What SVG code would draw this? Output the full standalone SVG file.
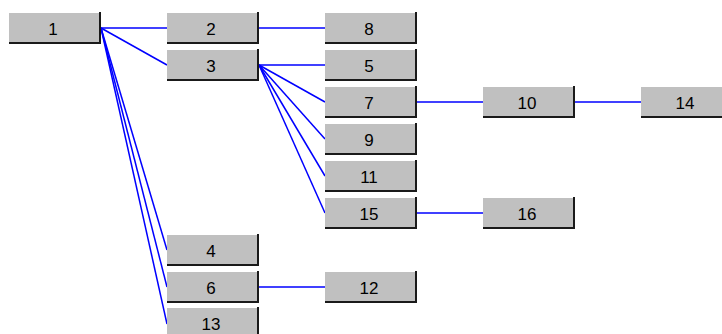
<svg xmlns="http://www.w3.org/2000/svg" width="722" height="334" viewBox="0 0 722 334">
  <style>
    .face { fill: #c0c0c0; }
    .edge { fill: none; stroke: #1a1a1a; stroke-width: 2; }
    .box text { font-family: "Liberation Sans", Arial, sans-serif; font-size: 17px; fill: #000; text-anchor: middle; }
    #links line { stroke: #0000ff; stroke-width: 1.5; }
  </style>
  <defs>
    <!-- button-like node: grey face, dark bottom and right edges -->
    <g id="btn">
      <rect class="face" x="0" y="0" width="92" height="31"/>
      <path class="edge" d="M91 -1 V30 H0"/>
    </g>
  </defs>
  <rect width="722" height="334" fill="#ffffff"/>

  <g id="links">
    <line x1="101" y1="28" x2="167" y2="28"/>
    <line x1="101" y1="28" x2="167" y2="65"/>
    <line x1="101" y1="28" x2="167" y2="250"/>
    <line x1="101" y1="28" x2="167" y2="287"/>
    <line x1="101" y1="28" x2="167" y2="324"/>
    <line x1="259" y1="28" x2="325" y2="28"/>
    <line x1="259" y1="65" x2="325" y2="65"/>
    <line x1="259" y1="65" x2="325" y2="102"/>
    <line x1="259" y1="65" x2="325" y2="139"/>
    <line x1="259" y1="65" x2="325" y2="176"/>
    <line x1="259" y1="65" x2="325" y2="213"/>
    <line x1="416" y1="102" x2="483" y2="102"/>
    <line x1="574" y1="102" x2="641" y2="102"/>
    <line x1="416" y1="213" x2="483" y2="213"/>
    <line x1="259" y1="287" x2="325" y2="287"/>
  </g>

  <g id="n1" class="box" transform="translate(9,13)"><use href="#btn"/><text x="44" y="22">1</text></g>
  <g id="n2" class="box" transform="translate(167,13)"><use href="#btn"/><text x="44" y="22">2</text></g>
  <g id="n3" class="box" transform="translate(167,50)"><use href="#btn"/><text x="44" y="22">3</text></g>
  <g id="n4" class="box" transform="translate(167,235)"><use href="#btn"/><text x="44" y="22">4</text></g>
  <g id="n6" class="box" transform="translate(167,272)"><use href="#btn"/><text x="44" y="22">6</text></g>
  <g id="n13" class="box" transform="translate(167,308)"><use href="#btn"/><text x="44" y="22">13</text></g>
  <g id="n8" class="box" transform="translate(325,13)"><use href="#btn"/><text x="44" y="22">8</text></g>
  <g id="n5" class="box" transform="translate(325,50)"><use href="#btn"/><text x="44" y="22">5</text></g>
  <g id="n7" class="box" transform="translate(325,87)"><use href="#btn"/><text x="44" y="22">7</text></g>
  <g id="n9" class="box" transform="translate(325,124)"><use href="#btn"/><text x="44" y="22">9</text></g>
  <g id="n11" class="box" transform="translate(325,161)"><use href="#btn"/><text x="44" y="22">11</text></g>
  <g id="n15" class="box" transform="translate(325,198)"><use href="#btn"/><text x="44" y="22">15</text></g>
  <g id="n12" class="box" transform="translate(325,272)"><use href="#btn"/><text x="44" y="22">12</text></g>
  <g id="n10" class="box" transform="translate(483,87)"><use href="#btn"/><text x="44" y="22">10</text></g>
  <g id="n16" class="box" transform="translate(483,198)"><use href="#btn"/><text x="44" y="22">16</text></g>
  <g id="n14" class="box" transform="translate(641,87)"><use href="#btn"/><text x="44" y="22">14</text></g>
</svg>
